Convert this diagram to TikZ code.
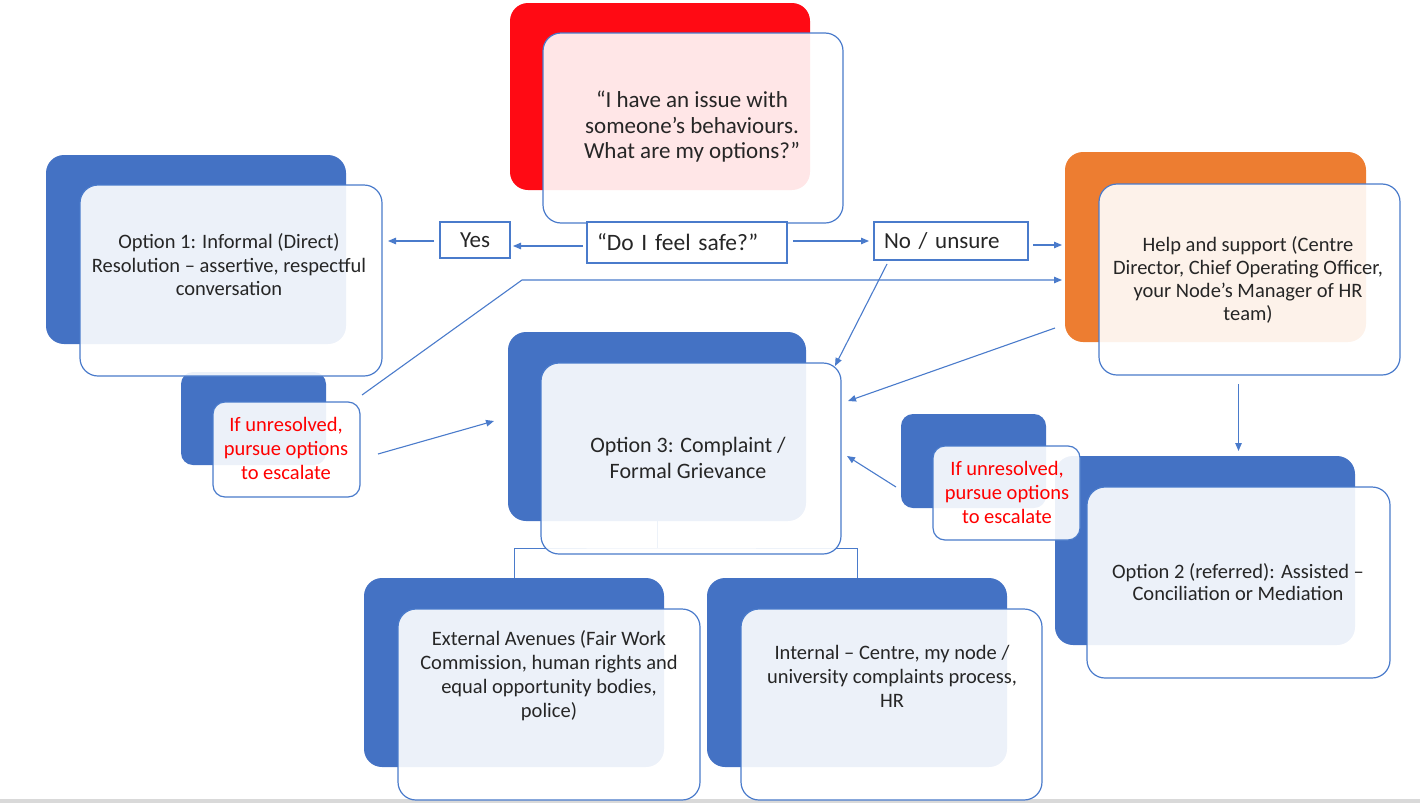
\documentclass[tikz,border=0pt]{standalone}
\usepackage{fontspec}
\setmainfont{Carlito}
\usetikzlibrary{arrows.meta,calc}
\definecolor{cblue}{HTML}{4472C4}
\definecolor{corange}{HTML}{ED7D31}
\definecolor{cred}{HTML}{FF0A14}
\definecolor{edgec}{HTML}{4A7BCB}
\definecolor{txt}{HTML}{262626}
\definecolor{redtxt}{HTML}{FF0000}
\begin{document}
\begin{tikzpicture}[x=1pt,y=-1pt,
  back/.style={rounded corners=18pt, inner sep=0pt, outer sep=0pt, draw=none, fill=cblue},
  front/.style={rounded corners=18pt, inner sep=0pt, outer sep=0pt, draw=edgec, line width=1.2pt, fill=white, fill opacity=0.9, draw opacity=1},
  smallr/.style={rounded corners=12pt},
  cardtext/.style={align=center, text=txt, font=\fontsize{20.5}{23.5}\selectfont, inner sep=0pt},
  redtext/.style={align=center, text=redtxt, font=\fontsize{20.5}{24}\selectfont, inner sep=0pt},
  plainbox/.style={draw=edgec, line width=1.3pt, fill=white, inner sep=0pt, outer sep=0pt, text=txt, font=\fontsize{23}{26}\selectfont},
  arr/.style={draw=edgec, line width=1.1pt, -{Triangle[length=8pt,width=6.5pt]}},
  conn/.style={draw=edgec, line width=1.1pt}
]
\useasboundingbox (0,0) rectangle (1420,803);
\fill[black!15] (0,799) rectangle (1420,803);

% back boxes
\node[back, fill=cred, minimum width=300pt, minimum height=187pt] (qback) at (660,96.5) {};
\node[back, minimum width=300pt, minimum height=189pt] (o1back) at (196,249.5) {};
\node[back, fill=corange, minimum width=301pt, minimum height=190pt] (helpback) at (1215.5,247) {};
\node[back, minimum width=298pt, minimum height=189pt] (o3back) at (657,426.5) {};
\node[back, minimum width=300pt, minimum height=189pt] (o2back) at (1205,550.5) {};
\node[back, smallr, minimum width=145pt, minimum height=93pt] (eLback) at (253.5,418.5) {};
\node[back, smallr, minimum width=145pt, minimum height=94pt] (eRback) at (973.5,461) {};
\node[back, minimum width=300pt, minimum height=189pt] (extback) at (514,672.5) {};
\node[back, minimum width=300pt, minimum height=189pt] (intback) at (857,672.5) {};

% bracket under option 3
\draw[conn, line width=0.9pt] (o3back.south) -- ++(0,27) coordinate (br);
\draw[conn, line width=0.9pt] (extback.north) |- (br) -| (intback.north);

% front boxes
\node[front, minimum width=300pt, minimum height=190pt] (qfront) at (693,128) {};
\node[front, minimum width=302pt, minimum height=191pt] (o1front) at (231,280.5) {};
\node[front, minimum width=301pt, minimum height=191pt] (helpfront) at (1249.5,279.5) {};
\node[front, minimum width=300pt, minimum height=191pt] (o3front) at (691,458.5) {};
\node[front, minimum width=303pt, minimum height=191pt] (o2front) at (1238.5,582.5) {};
\node[front, smallr, minimum width=147pt, minimum height=95pt] (eLfront) at (286.5,449.5) {};
\node[front, smallr, minimum width=147pt, minimum height=94pt] (eRfront) at (1006.5,493) {};
\node[front, minimum width=302pt, minimum height=191pt] (extfront) at (549,704.5) {};
\node[front, minimum width=301pt, minimum height=191pt] (intfront) at (891.5,704.5) {};

% texts
\node[cardtext, font=\fontsize{23}{25.5}\selectfont] (qtext) at (692,127) {“I have an issue with\\someone’s behaviours.\\What are my options?”};
\node[cardtext] (o1text) at (229,265) {Option 1: Informal (Direct)\\Resolution – assertive, respectful\\conversation};
\node[cardtext, font=\fontsize{20.5}{23}\selectfont] (helptext) at (1248,280) {Help and support (Centre\\Director, Chief Operating Officer,\\your Node’s Manager of HR\\team)};
\node[cardtext, font=\fontsize{22}{26}\selectfont] (o3text) at (688,458) {Option 3: Complaint /\\Formal Grievance};
\node[cardtext, font=\fontsize{20.5}{22.5}\selectfont] (o2text) at (1238,582) {Option 2 (referred): Assisted –\\Conciliation or Mediation};
\node[cardtext, font=\fontsize{20.5}{24}\selectfont] (exttext) at (549,676) {External Avenues (Fair Work\\Commission, human rights and\\equal opportunity bodies,\\police)};
\node[cardtext, font=\fontsize{20.5}{24}\selectfont] (inttext) at (892,676) {Internal – Centre, my node /\\university complaints process,\\HR};
\node[redtext] (eLtext) at (286,448) {If unresolved,\\pursue options\\to escalate};
\node[redtext] (eRtext) at (1007,492) {If unresolved,\\pursue options\\to escalate};

% small plain boxes
\node[plainbox, minimum width=70pt, minimum height=36pt] (yes) at (475,240) {Yes};
\node[plainbox, minimum width=200pt, minimum height=41pt, text width=180pt, align=left, inner xsep=10pt, font=\fontsize{23.5}{26}\selectfont] (safe) at (687,242.5) {“Do I feel safe?”};
\node[plainbox, minimum width=154pt, minimum height=38pt, text width=134pt, align=left, inner xsep=10pt] (no) at (951,241) {No / unsure};

% connectors
\draw[arr] ($(safe.west)+(-4,3.5)$) -- ($(yes.east)+(3,6)$);
\draw[arr] ($(yes.west)+(-6,1)$) -- ($(yes.west -| o1front.east)+(6,1)$);
\draw[arr] ($(safe.east)+(6,-1.5)$) -- ($(no.west)+(-5,0)$);
\draw[arr] ($(no.east)+(5,4)$) -- ($(no.east -| helpback.west)+(-3,4)$);
\coordinate (bend) at (522,280);
\draw[arr] ($(eLfront.north east)+(2,-7)$) -- (bend) -- ($(bend -| helpback.west)+(-3,0)$);
\draw[arr] ($(no.south west)+(13,4)$) -- ($(o3front.north east)+(-6,3)$);
\draw[arr] ($(helpback.south west)+(-10,-14)$) -- ($(o3front.north east)+(7,38)$);
\draw[arr] ($(eRback.west)+(-5,26)$) -- ($(o3front.east)+(6,-2.5)$);
\draw[arr] ($(eLfront.east)+(18,4.5)$) -- ($(o3back.west)+(-14,-5.5)$);
\draw[arr] ($(o2front.north |- helpfront.south)+(0,9)$) -- ($(o2front.north |- o2back.north)+(0,-5)$);
\end{tikzpicture}
\end{document}
